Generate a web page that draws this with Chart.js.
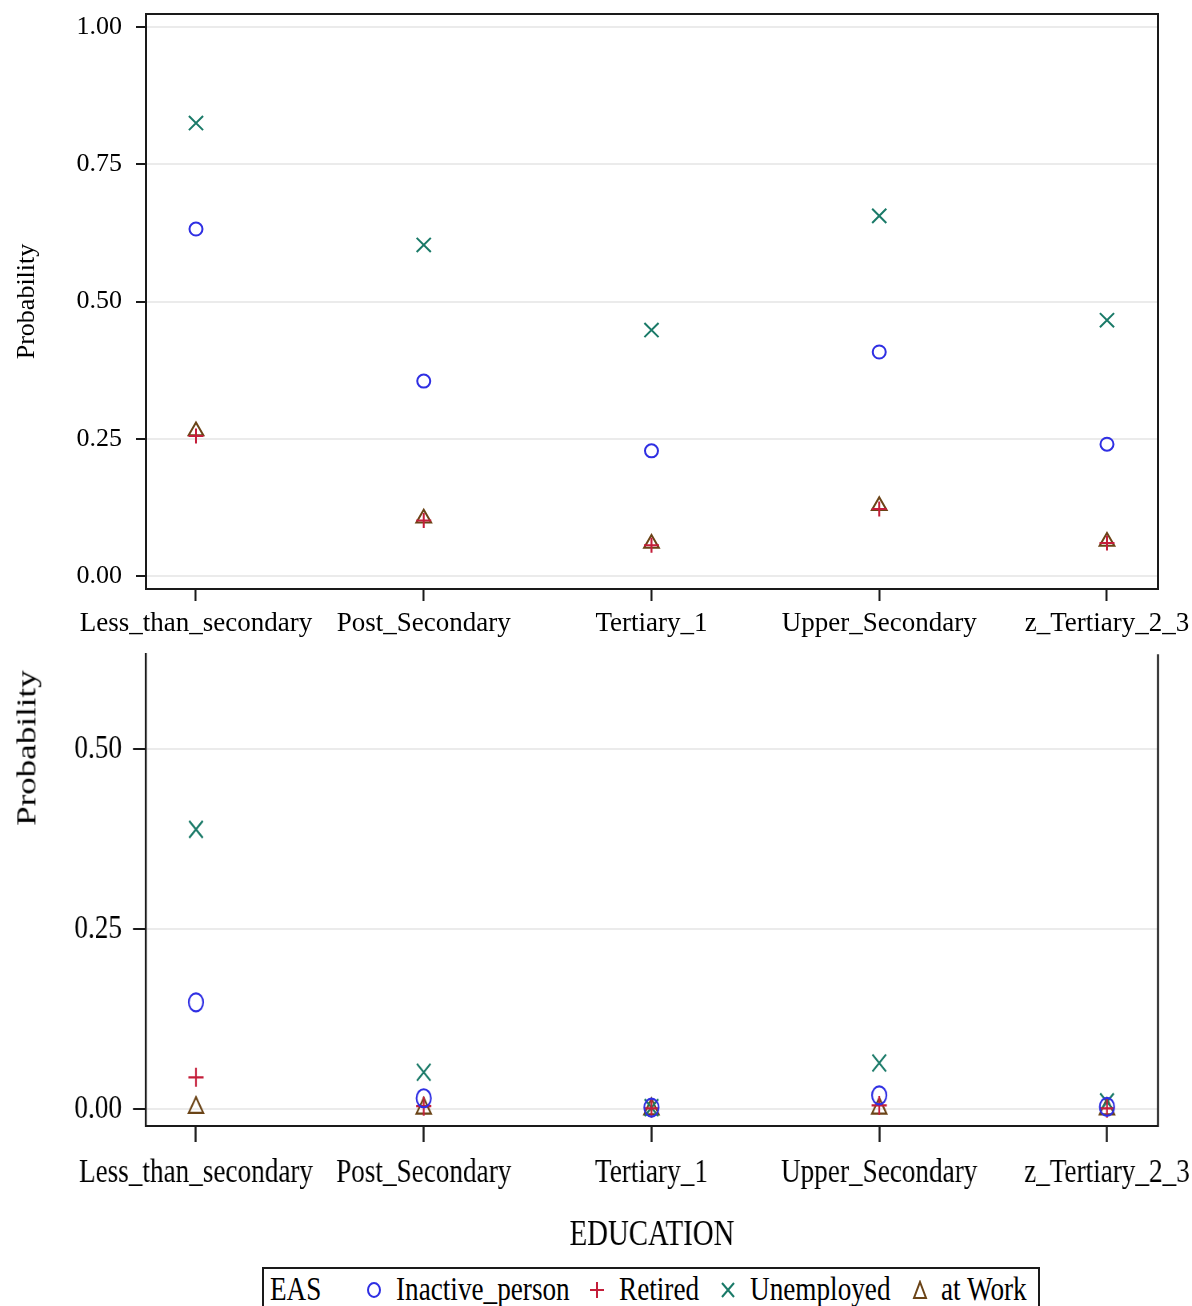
<!DOCTYPE html>
<html>
<head>
<meta charset="utf-8">
<script src="https://cdn.jsdelivr.net/npm/chart.js@4.4.0/dist/chart.umd.min.js"></script>
<style>
html,body{margin:0;padding:0;background:#fff;width:1192px;height:1306px;overflow:hidden;font-family:'Liberation Serif',serif;}
#c1{position:absolute;left:0;top:0;}
#c2{position:absolute;left:0;top:640px;}
#ytitle2{position:absolute;left:26px;top:748px;font-size:35px;line-height:35px;white-space:nowrap;color:#000;
  transform:translate(-50%,-50%) rotate(-90deg) scaleY(0.8);}
#legend{position:absolute;left:262px;top:1267px;width:774px;height:60px;border:2px solid #1a1a1a;box-sizing:content-box;}
#legend .t{position:absolute;top:3px;font-size:34px;line-height:34px;color:#000;white-space:nowrap;transform:scaleX(0.8);transform-origin:left center;}
#legend svg{position:absolute;top:11px;}
</style>
</head>
<body>
<canvas id="c1" width="1192" height="645" style="width:1192px;height:645px"></canvas>
<canvas id="c2" width="1490" height="622" style="width:1192px;height:622px"></canvas>
<div id="ytitle2"></div>
<div id="legend"></div>
<script>
// ---------- data ----------
const categories = ["Less_than_secondary", "Post_Secondary", "Tertiary_1", "Upper_Secondary", "z_Tertiary_2_3"];
const seriesNames = ["Inactive_person", "Retired", "Unemployed", "at Work"];
const legendTitle = "EAS";
const xTitle = "EDUCATION";
const yTitle = "Probability";

const topInactive   = [0.632, 0.355, 0.228, 0.408, 0.240];
const topRetired    = [0.255, 0.101, 0.056, 0.122, 0.060];
const topUnemployed = [0.825, 0.603, 0.448, 0.656, 0.466];
const topAtWork     = [0.264, 0.105, 0.059, 0.128, 0.063];

const bottomInactive   = [0.148, 0.015, 0.002, 0.019, 0.003];
const bottomRetired    = [0.044, 0.004, 0.001, 0.005, 0.001];
const bottomUnemployed = [0.388, 0.051, 0.002, 0.064, 0.010];
const bottomAtWork     = [0.002, 0.001, 0.000, 0.001, 0.000];

const topYTicks = [0, 0.25, 0.5, 0.75, 1.0];
const topYTickLabels = ["0.00", "0.25", "0.50", "0.75", "1.00"];
const bottomYTicks = [0, 0.25, 0.5];
const bottomYTickLabels = ["0.00", "0.25", "0.50"];

// ---------- styles ----------
const FONT = "'Liberation Serif', 'Times New Roman', serif";
const colors = ["#2f2fe3", "#c41e3a", "#1a7a68", "#6b4417"];
const pointStyles = ["circle", "cross", "crossRot", "triangle"];
const FRAME = "#1a1a1a";
Chart.defaults.color = "#000";

const framePlugin = {
  id: "frame",
  afterDraw(chart, args, opts) {
    const {ctx, chartArea: a} = chart;
    ctx.save();
    ctx.strokeStyle = FRAME;
    if (opts.top) {
      ctx.lineWidth = opts.hw;
      ctx.beginPath();
      ctx.moveTo(a.left - opts.vw / 2, a.top);
      ctx.lineTo(a.right + opts.vw / 2, a.top);
      ctx.stroke();
    }
    ctx.lineWidth = opts.vw;
    ctx.beginPath();
    ctx.moveTo(a.right, a.top - (opts.top ? opts.hw / 2 : 0));
    ctx.lineTo(a.right, a.bottom + opts.hw / 2);
    ctx.stroke();
    ctx.restore();
  }
};

function zeroPad(s) { s.paddingTop = 0; s.paddingBottom = 0; s.paddingLeft = 0; s.paddingRight = 0; }

function makeDatasets(arrs, radii, bw) {
  return seriesNames.map((name, k) => ({
    label: name,
    data: arrs[k].map((v, i) => ({x: i, y: v})),
    showLine: false,
    pointStyle: pointStyles[k],
    pointRadius: radii[k],
    pointHoverRadius: radii[k],
    pointBorderColor: colors[k],
    pointBackgroundColor: "rgba(0,0,0,0)",
    pointBorderWidth: bw,
    clip: false
  }));
}

function makeChart(canvas, o) {
  return new Chart(canvas, {
    type: "scatter",
    data: {datasets: makeDatasets(o.arrs, o.radii, o.bw)},
    options: {
      responsive: false,
      devicePixelRatio: 1,
      animation: false,
      events: [],
      layout: {padding: {top: o.padTop, right: o.padRight, left: 0, bottom: 0}},
      plugins: {legend: {display: false}, tooltip: {enabled: false}, frame: {top: o.frameTop, hw: 2, vw: o.vw}},
      scales: {
        x: {
          type: "linear",
          min: -0.2195, max: 4.224,
          afterBuildTicks: s => { s.ticks = categories.map((c, i) => ({value: i})); },
          afterFit: s => { s.height = o.xHeight; zeroPad(s); },
          ticks: {
            callback: v => categories[v],
            font: {family: FONT, size: o.xFont},
            color: "#000",
            padding: o.xPad,
            autoSkip: false, maxRotation: 0, minRotation: 0
          },
          grid: {drawOnChartArea: false, drawTicks: true, tickLength: o.xTick, tickColor: FRAME, tickWidth: o.vw},
          border: {display: true, color: FRAME, width: 2},
          title: o.xTitle ? {display: true, text: xTitle, color: "#000",
                   font: {family: FONT, size: o.xTitleFont}, padding: {top: 0, bottom: o.xTitlePad}} : {display: false}
        },
        y: {
          type: "linear",
          min: o.yMin, max: o.yMax,
          afterBuildTicks: s => { s.ticks = o.yTicks.map(v => ({value: v})); },
          afterFit: s => { s.width = o.yWidth; zeroPad(s); },
          ticks: {
            callback: (v, i) => o.yTickLabels[i],
            font: {family: FONT, size: o.yFont},
            color: "#000",
            padding: o.yPad
          },
          grid: {color: "#ebebeb", lineWidth: 2, drawTicks: true, tickLength: o.yTick, tickColor: FRAME, tickWidth: 2},
          border: {display: true, color: FRAME, width: o.vw},
          title: o.yTitle ? {display: true, text: yTitle, color: "#000",
                  font: {family: FONT, size: o.yTitleFont}, padding: {top: o.yTitlePad, bottom: 0}} : {display: false}
        }
      }
    },
    plugins: [framePlugin]
  });
}

// top panel (natural proportions)
makeChart(document.getElementById("c1"), {
  arrs: [topInactive, topRetired, topUnemployed, topAtWork],
  radii: [6.5, 7.5, 10, 8.5], bw: 2, vw: 2,
  padTop: 14, padRight: 34, frameTop: true,
  xHeight: 56, xFont: 27, xPad: 7, xTick: 12, xTitle: false,
  yMin: -0.0237, yMax: 1.0237, yTicks: topYTicks, yTickLabels: topYTickLabels,
  yWidth: 146, yFont: 26, yPad: 14, yTick: 10, yTitle: true, yTitleFont: 26, yTitlePad: 11.4
});

// bottom panel (horizontally compressed 0.8 by CSS -> tall text like the reference)
const SX = 0.8;
makeChart(document.getElementById("c2"), {
  arrs: [bottomInactive, bottomRetired, bottomUnemployed, bottomAtWork],
  radii: [9, 9.5, 12, 10.5], bw: 2.2, vw: 2.5,
  padTop: 12, padRight: 34 / SX, frameTop: false,
  xHeight: 136, xFont: 34, xPad: 10.6, xTick: 16, xTitle: true, xTitleFont: 36, xTitlePad: 4.4,
  yMin: -0.0235, yMax: 0.631, yTicks: bottomYTicks, yTickLabels: bottomYTickLabels,
  yWidth: 146 / SX, yFont: 34, yPad: 13.75, yTick: 16.25, yTitle: false
});
document.getElementById("ytitle2").textContent = yTitle;

// legend (HTML, real text)
(function () {
  const lg = document.getElementById("legend");
  const base = 264; // page x of legend padding box
  function text(str, x) {
    const s = document.createElement("span");
    s.className = "t"; s.textContent = str; s.style.left = (x - base) + "px";
    lg.appendChild(s);
  }
  function sym(k, cx) {
    const w = 18, h = 20;
    const ns = "http://www.w3.org/2000/svg";
    const svg = document.createElementNS(ns, "svg");
    svg.setAttribute("width", w); svg.setAttribute("height", h);
    svg.style.left = (cx - base - w / 2) + "px";
    let inner = "";
    const c = colors[k];
    if (k === 0) inner = `<ellipse cx="9" cy="10" rx="6" ry="7" fill="none" stroke="${c}" stroke-width="2"/>`;
    if (k === 1) inner = `<path d="M9 2 V18 M2 10 H16" stroke="${c}" stroke-width="2" fill="none"/>`;
    if (k === 2) inner = `<path d="M3 3 L15 17 M15 3 L3 17" stroke="${c}" stroke-width="2" fill="none"/>`;
    if (k === 3) inner = `<path d="M9 2 L15 18 L3 18 Z" stroke="${c}" stroke-width="2" fill="none"/>`;
    svg.innerHTML = inner;
    lg.appendChild(svg);
  }
  text(legendTitle, 270);
  const symX = [374, 597, 728, 920];
  const txtX = [396, 619, 750, 941];
  seriesNames.forEach((n, k) => { sym(k, symX[k]); text(n, txtX[k]); });
})();
</script>
</body>
</html>
